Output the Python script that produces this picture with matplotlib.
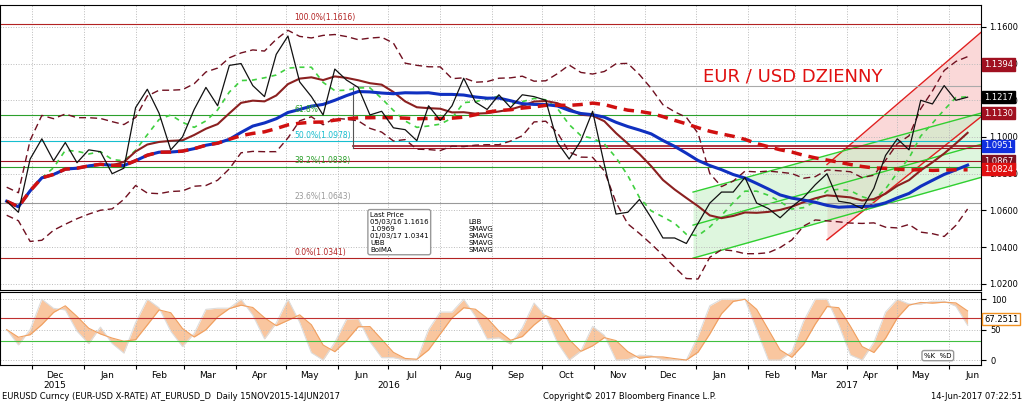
import matplotlib
matplotlib.use("Agg")
import matplotlib.pyplot as plt
import matplotlib.dates as mdates
import numpy as np
import pandas as pd

week_start = "2015-11-16"
closes = [1.065,1.059,1.088,1.099,1.087,1.097,1.086,1.093,1.092,1.080,1.083,1.116,1.126,1.113,
          1.093,1.100,1.115,1.127,1.117,1.139,1.140,1.128,1.122,1.145,1.155,1.130,1.122,1.112,
          1.137,1.131,1.127,1.112,1.114,1.105,1.104,1.098,1.117,1.109,1.117,1.132,1.119,1.115,
          1.123,1.116,1.123,1.122,1.120,1.097,1.088,1.098,1.114,1.085,1.058,1.059,1.066,1.056,
          1.045,1.045,1.042,1.053,1.064,1.070,1.070,1.078,1.064,1.061,1.056,1.062,1.067,1.074,
          1.080,1.065,1.064,1.061,1.072,1.090,1.099,1.093,1.120,1.118,1.128,1.120,1.1217]
fib_levels = [1.1616,1.1118,1.0978,1.0838,1.0643,1.0341]
fib_labels = ["100.0%(1.1616)","61.8%","50.0%(1.0978)","38.2%(1.0838)","23.6%(1.0643)","0.0%(1.0341)"]
fib_colors = ["#b22222","#2ca02c","#17becf","#2ca02c","#999999","#b22222"]
right_vals = [1.1394,1.1217,1.1130,1.0951,1.0867,1.0824]
right_cols = ["#a01020","#000000","#a01020","#1030e0","#801020","#e01010"]
months = ["Dec","Jan","Feb","Mar","Apr","May","Jun","Jul","Aug","Sep","Oct","Nov","Dec","Jan","Feb","Mar","Apr","May","Jun"]

dates = pd.date_range(week_start, periods=len(closes), freq="7D")
s = pd.Series(closes, index=dates)
sma10 = s.rolling(10, min_periods=1).mean()
sma20 = s.rolling(20, min_periods=1).mean()
sma40 = s.rolling(40, min_periods=1).mean()
sma4 = s.rolling(4, min_periods=1).mean()
sd = s.rolling(10, min_periods=2).std().bfill()
ubb = sma10 + 1.8*sd; lbb = sma10 - 1.8*sd
lo = s.rolling(5, min_periods=1).min(); hi = s.rolling(5, min_periods=1).max()
k = (100*(s-lo)/(hi-lo).replace(0,np.nan)).fillna(50).rolling(2,min_periods=1).mean()
d = k.rolling(3, min_periods=1).mean()

t = lambda ds: mdates.date2num(pd.Timestamp(ds))
fig = plt.figure(figsize=(10.24,4.01), dpi=100)
ax = fig.add_axes([0.0,0.277,0.958,0.711])
ax2 = fig.add_axes([0.0,0.09,0.958,0.182], sharex=ax)
x0, x1 = t("2015-11-12"), t("2017-06-20")
ax.set_xlim(x0, x1); ax.set_ylim(1.0167, 1.1720)

xr = [t("2017-03-20"), x1]
ax.fill_between(xr, [1.044,1.111], [1.085,1.157], color="#f8c8c8", alpha=0.7, lw=0)
ax.plot(xr, [1.044,1.111], color="#e02020", lw=1); ax.plot(xr, [1.085,1.157], color="#e02020", lw=1)
xg = [t("2016-12-30"), x1]
ax.fill_between(xg, [1.034,1.078], [1.070,1.113], color="#c8f0c8", alpha=0.6, lw=0)
ax.plot(xg, [1.034,1.078], color="#30d030", lw=1); ax.plot(xg, [1.070,1.113], color="#30d030", lw=1)
ax.plot(xg, [1.052,1.096], color="#30d030", lw=1)

for v, lab, c in zip(fib_levels, fib_labels, fib_colors):
    ax.axhline(v, color=c, lw=0.8)
    ax.text(t("2016-05-06"), v+0.0008, lab, color=c, fontsize=5.5, va="bottom")
ax.plot([t("2016-06-10"), x1], [1.0951]*2, color="#a01020", lw=1.2)
ax.plot([t("2016-06-10"), x1], [1.0940]*2, color="#a01020", lw=0.8)
ax.plot([t("2016-06-10"), t("2016-06-10")], [1.0940,1.1280], color="#555555", lw=0.8)
ax.plot([t("2016-06-10"), x1], [1.1280]*2, color="#aaaaaa", lw=0.8)
ax.axhline(1.0867, color="#a01020", lw=0.8)

ax.plot(s.index, ubb, color="#701020", lw=1, ls=(0,(5,3)))
ax.plot(s.index, lbb, color="#701020", lw=1, ls=(0,(5,3)))
ax.plot(s.index, sma4, color="#40d040", lw=1.2, ls=(0,(3,3)))
ax.plot(s.index, sma10, color="#8b2020", lw=1.5)
ax.plot(s.index, sma20, color="#1030c0", lw=2.2)
ax.plot(s.index, sma40, color="#d01010", lw=2.5, ls=(0,(3,2)))
ax.plot(s.index, s, color="#111111", lw=0.9)

ax.text(t("2017-01-05"), 1.1300, "EUR / USD DZIENNY", color="#e01010", fontsize=13)
ax.yaxis.tick_right()
ax.set_yticks(np.arange(1.02,1.17,0.02))
ax.set_yticklabels([f"{v:.4f}" for v in np.arange(1.02,1.17,0.02)], fontsize=6)
for v, c in zip(right_vals, right_cols):
    ax.text(1.003, v, f"{v:.4f}", transform=ax.get_yaxis_transform(), color="white", fontsize=6,
            va="center", bbox=dict(boxstyle="square,pad=0.2", fc=c, ec=c))
ax.grid(True, color="#bbbbbb", ls=":", lw=0.7)
ax.tick_params(axis="x", labelbottom=False, length=0)
ax.tick_params(axis="y", pad=2)

leg = ["Last Price","05/03/16 1.1616","1.0969","01/03/17 1.0341","UBB","BolMA","LBB","SMAVG","SMAVG","SMAVG","SMAVG"]
ax.text(t("2016-06-20"), 1.037, "\n".join(leg[:6]), fontsize=5, va="bottom",
        bbox=dict(fc="white", ec="#999999", boxstyle="round,pad=0.3"))
ax.text(t("2016-08-18"), 1.037, "\n".join(leg[6:]), fontsize=5, va="bottom")

ax2.set_ylim(-8, 112)
ax2.plot(s.index, k, color="#dddddd", lw=0.8)
ax2.plot(s.index, d, color="#f0a060", lw=0.8)
ax2.fill_between(s.index, k, d, color="#f5a060", alpha=0.6, lw=0)
ax2.axhline(69, color="#c03030", lw=0.8); ax2.axhline(31, color="#40c040", lw=0.8)
ax2.yaxis.tick_right()
ax2.set_yticks([0,50,100]); ax2.set_yticklabels(["0","50","100"], fontsize=6)
ax2.text(1.003, 67.25, "67.2511", transform=ax2.get_yaxis_transform(), fontsize=6, va="center",
         bbox=dict(boxstyle="square,pad=0.2", fc="white", ec="#f09020"))
ax2.grid(True, color="#bbbbbb", ls=":", lw=0.7)
ax2.text(0.97, 0.1, "%K  %D", transform=ax2.transAxes, fontsize=5, ha="right",
         bbox=dict(fc="white", ec="#999999", boxstyle="round,pad=0.3"))
mstarts = pd.date_range("2015-12-01", "2017-06-01", freq="MS")
ax2.set_xticks(mstarts)
ax2.set_xticklabels([])
ax2.tick_params(axis="x", length=3)
for m, lab in zip(mstarts, months):
    ax2.text(mdates.date2num(m + pd.Timedelta(days=14)), -18, lab, fontsize=6.5, ha="center", va="top")
ax2.text(t("2015-12-15"), -34, "2015", fontsize=6.5, ha="center", va="top")
ax2.text(t("2016-07-01"), -34, "2016", fontsize=6.5, ha="center", va="top")
ax2.text(t("2017-04-01"), -34, "2017", fontsize=6.5, ha="center", va="top")

fig.text(0.002, 0.005, "EURUSD Curncy (EUR-USD X-RATE) AT_EURUSD_D  Daily 15NOV2015-14JUN2017", fontsize=6)
fig.text(0.53, 0.005, "Copyright\u00a9 2017 Bloomberg Finance L.P.", fontsize=6)
fig.text(0.998, 0.005, "14-Jun-2017 07:22:51", fontsize=6, ha="right")
fig.savefig("out.png", dpi=100)
